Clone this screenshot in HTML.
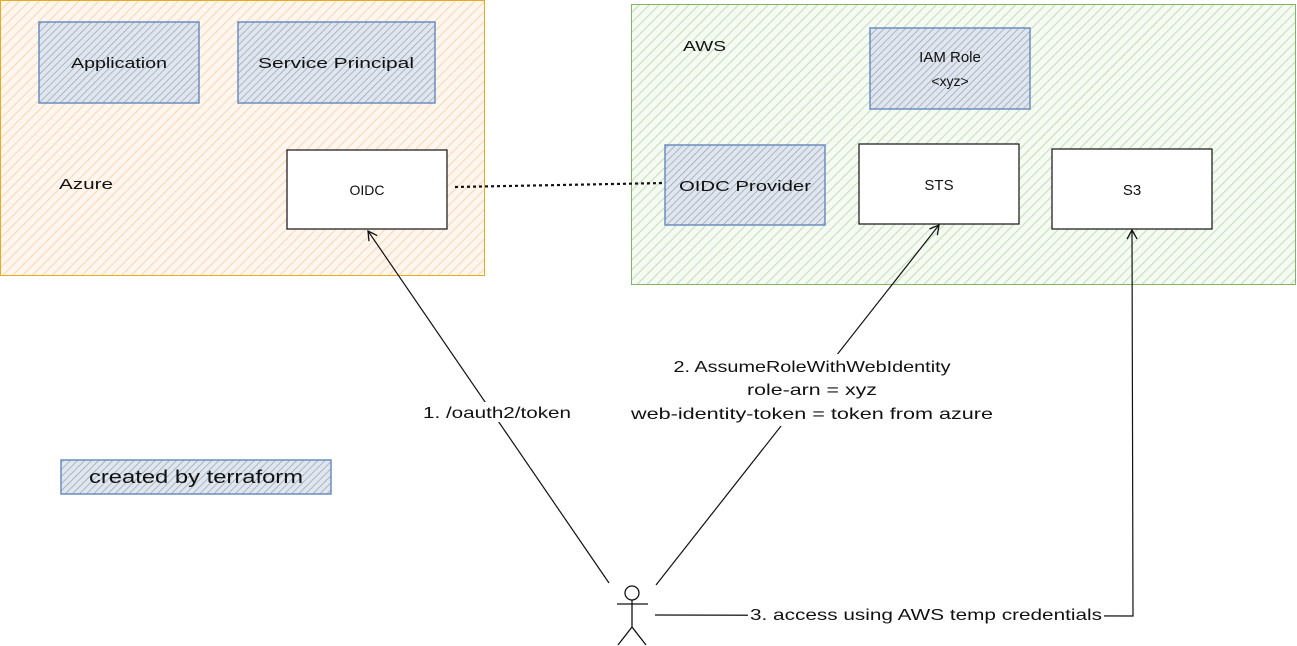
<!DOCTYPE html>
<html><head><meta charset="utf-8"><style>
html,body{margin:0;padding:0;background:#fff;}
svg{display:block;}
text{font-family:"Liberation Sans",sans-serif;fill:#111;}
</style></head><body>
<svg width="1297" height="646" viewBox="0 0 1297 646" xmlns="http://www.w3.org/2000/svg">
<defs>
<pattern id="hOr" width="7" height="7" patternUnits="userSpaceOnUse" patternTransform="rotate(45)">
<rect width="7" height="7" fill="#fff7ef"/><line x1="0" y1="0" x2="0" y2="7" stroke="#fbd8b4" stroke-width="2.2"/></pattern>
<pattern id="hGr" width="7" height="7" patternUnits="userSpaceOnUse" patternTransform="rotate(45)">
<rect width="7" height="7" fill="#f5faf2"/><line x1="0" y1="0" x2="0" y2="7" stroke="#c7e0bb" stroke-width="2.2"/></pattern>
<pattern id="hBl" width="5" height="5" patternUnits="userSpaceOnUse" patternTransform="rotate(45)">
<rect width="5" height="5" fill="#dde6f1"/><line x1="0" y1="0" x2="0" y2="5" stroke="#a0a0a0" stroke-width="1.4"/></pattern>
<marker id="ar" markerWidth="12" markerHeight="12" refX="10" refY="6" orient="auto" markerUnits="userSpaceOnUse">
<path d="M1,1 L10,6 L1,11" fill="none" stroke="#111" stroke-width="1.3"/></marker>
</defs>

<!-- Azure -->
<rect x="0.5" y="0.5" width="484" height="275" fill="url(#hOr)" stroke="#e6ac1e" stroke-width="1"/>
<text x="59" y="189" font-size="15" textLength="54" lengthAdjust="spacingAndGlyphs">Azure</text>
<rect x="39" y="22" width="160" height="81" fill="url(#hBl)" stroke="#6c8ebf" stroke-width="1.5"/>
<text x="119" y="68" font-size="15" text-anchor="middle" textLength="96" lengthAdjust="spacingAndGlyphs">Application</text>
<rect x="238" y="22" width="197" height="81" fill="url(#hBl)" stroke="#6c8ebf" stroke-width="1.5"/>
<text x="336" y="68" font-size="15" text-anchor="middle" textLength="156" lengthAdjust="spacingAndGlyphs">Service Principal</text>
<rect x="287" y="150" width="160" height="79" fill="#fff" stroke="#111" stroke-width="1.2"/>
<text x="367" y="195" font-size="14" text-anchor="middle">OIDC</text>

<!-- AWS -->
<rect x="631.5" y="4.5" width="664" height="280" fill="url(#hGr)" stroke="#82b366" stroke-width="1"/>
<text x="683" y="51" font-size="15" textLength="43" lengthAdjust="spacingAndGlyphs">AWS</text>
<rect x="870" y="28" width="160" height="81" fill="url(#hBl)" stroke="#6c8ebf" stroke-width="1.5"/>
<text x="950" y="62" font-size="15" text-anchor="middle">IAM Role</text>
<text x="950" y="86" font-size="14" text-anchor="middle">&lt;xyz&gt;</text>
<rect x="665" y="145" width="160" height="80" fill="url(#hBl)" stroke="#6c8ebf" stroke-width="1.5"/>
<text x="745" y="191" font-size="15" text-anchor="middle" textLength="132" lengthAdjust="spacingAndGlyphs">OIDC Provider</text>
<rect x="859" y="144" width="160" height="80" fill="#fff" stroke="#111" stroke-width="1.2"/>
<text x="939" y="190" font-size="15" text-anchor="middle">STS</text>
<rect x="1052" y="149" width="160" height="80" fill="#fff" stroke="#111" stroke-width="1.2"/>
<text x="1132" y="195" font-size="15" text-anchor="middle">S3</text>

<!-- dotted link -->
<line x1="455" y1="187" x2="665" y2="183" stroke="#111" stroke-width="2.2" stroke-dasharray="3,3"/>

<!-- legend -->
<rect x="61" y="460" width="270" height="34" fill="url(#hBl)" stroke="#6c8ebf" stroke-width="1.5"/>
<text x="196" y="483" font-size="18" text-anchor="middle" textLength="214" lengthAdjust="spacingAndGlyphs">created by terraform</text>

<!-- arrows -->
<line x1="609" y1="583" x2="368" y2="231" stroke="#111" stroke-width="1.2" marker-end="url(#ar)"/>
<line x1="656" y1="585" x2="939" y2="225" stroke="#111" stroke-width="1.2" marker-end="url(#ar)"/>
<polyline points="655,615 1133,616 1132,230" fill="none" stroke="#111" stroke-width="1.2" marker-end="url(#ar)"/>

<!-- labels -->
<rect x="422" y="402" width="150" height="20" fill="#fff"/>
<text x="497" y="418" font-size="16" text-anchor="middle" textLength="148" lengthAdjust="spacingAndGlyphs">1. /oauth2/token</text>
<rect x="630" y="354" width="366" height="72" fill="#fff"/>
<text x="812" y="372" font-size="16" text-anchor="middle" textLength="277" lengthAdjust="spacingAndGlyphs">2. AssumeRoleWithWebIdentity</text>
<text x="812" y="395" font-size="16" text-anchor="middle" textLength="130" lengthAdjust="spacingAndGlyphs">role-arn = xyz</text>
<text x="812" y="419" font-size="16" text-anchor="middle" textLength="362" lengthAdjust="spacingAndGlyphs">web-identity-token = token from azure</text>
<rect x="748" y="605" width="356" height="20" fill="#fff"/>
<text x="926" y="620" font-size="16" text-anchor="middle" textLength="352" lengthAdjust="spacingAndGlyphs">3. access using AWS temp credentials</text>

<!-- actor -->
<g fill="none" stroke="#111" stroke-width="1.3">
<circle cx="632" cy="593" r="7"/>
<line x1="632" y1="600" x2="632" y2="627"/>
<line x1="617" y1="604" x2="648" y2="604"/>
<line x1="632" y1="627" x2="618" y2="645"/>
<line x1="632" y1="627" x2="646" y2="645"/>
</g>
</svg>
</body></html>
